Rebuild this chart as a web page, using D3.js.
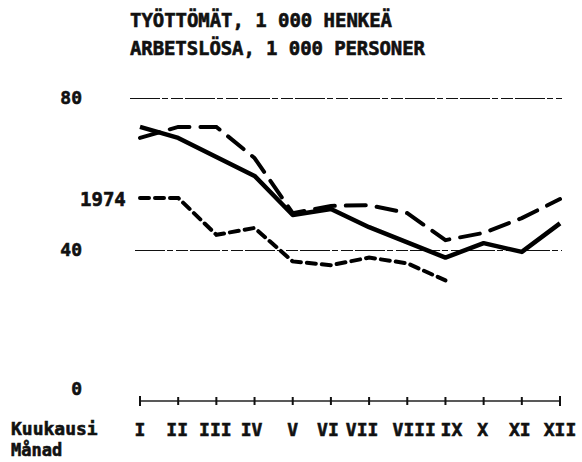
<!DOCTYPE html>
<html>
<head>
<meta charset="utf-8">
<script src="https://cdn.jsdelivr.net/npm/d3@7"></script>
<style>
  body { margin: 0; background: #fff; }
  text { font-family: "DejaVu Sans Mono", monospace; font-weight: bold; fill: #111; stroke: #111; stroke-width: 0.6; }
</style>
</head>
<body>
<div id="chart"></div>
<script>
// Data (1 000 persons)
const months = ["I", "II", "III", "IV", "V", "VI", "VII", "VIII", "IX", "X", "XI", "XII"];
const solidValues = [72.4, 69.5, 64.5, 59.5, 49.2, 50.8, 46, 42, 38, 41.8, 39.5, 47];
const longDashValues = [69.5, 72.4, 72.4, 64.2, 49.7, 51.6, 51.8, 49.7, 42.6, 44.5, 48.4, 53.4];
const values1974 = [53.7, 53.7, 44, 45.8, 37, 36, 38, 36.5, 32];
const yTicks = [0, 40, 80];
const gridValues = [40, 80];
const titleLines = ["TYÖTTÖMÄT, 1 000 HENKEÄ", "ARBETSLÖSA, 1 000 PERSONER"];

const width = 582, height = 462;

const svg = d3.select("#chart")
  .append("svg")
  .attr("width", width)
  .attr("height", height);

// Scales
const x = d3.scalePoint()
  .domain(months)
  .range([140, 560]);

const y = d3.scaleLinear()
  .domain([0, 80])
  .range([402, 98]);

// Title
svg.selectAll(".title")
  .data(titleLines)
  .enter()
  .append("text")
  .attr("class", "title")
  .attr("x", 130)
  .attr("y", function(d, i) { return 27 + i * 28; })
  .attr("font-size", 19)
  .attr("textLength", function(d, i) { return i === 0 ? 262 : 295; })
  .text(function(d) { return d; });

// Gridlines at 40 and 80
svg.selectAll(".grid")
  .data(gridValues)
  .enter()
  .append("line")
  .attr("class", "grid")
  .attr("x1", function(d) { return d === 80 ? x("I") - 10 : x("I") - 5; })
  .attr("x2", x("XII") + 2)
  .attr("y1", function(d) { return y(d) + 0.5; })
  .attr("y2", function(d) { return y(d) + 0.5; })
  .attr("stroke", "#111")
  .attr("stroke-width", 1)
  .attr("shape-rendering", "crispEdges")
  .attr("stroke-dasharray", "30,2,6,3,12,2");

// Y labels
svg.selectAll(".ylabel")
  .data(yTicks)
  .enter()
  .append("text")
  .attr("class", "ylabel")
  .attr("x", 82)
  .attr("y", function(d) { return (d === 0 ? y(d) - 13 : y(d)) + 6; })
  .attr("text-anchor", "end")
  .attr("font-size", 18)
  .attr("stroke-width", 1.2)
  .text(function(d) { return d; });

// X axis line with crossing ticks
svg.append("line")
  .attr("x1", x("I"))
  .attr("x2", x("XII"))
  .attr("y1", y(0) - 1)
  .attr("y2", y(0) - 1)
  .attr("stroke", "#222")
  .attr("stroke-width", 1.3);

svg.selectAll(".tick")
  .data(months)
  .enter()
  .append("line")
  .attr("class", "tick")
  .attr("x1", function(d) { return x(d); })
  .attr("x2", function(d) { return x(d); })
  .attr("y1", function(d, i) { return y(0) - (i === 0 || i === 11 ? 6 : 5); })
  .attr("y2", function(d, i) { return y(0) + (i === 0 || i === 11 ? 4 : 3); })
  .attr("stroke", "#111")
  .attr("stroke-width", 2);

// Month labels (a few sit slightly off their tick in the original)
const nudge = { "II": -1, "III": -1, "IV": -3, "VI": -3, "VII": -7, "VIII": 7, "IX": 6, "X": -1, "XI": -2 };
svg.selectAll(".mlabel")
  .data(months)
  .enter()
  .append("text")
  .attr("class", "mlabel")
  .attr("x", function(d) { return x(d) + (nudge[d] || 0); })
  .attr("y", 436)
  .attr("text-anchor", "middle")
  .attr("font-size", 18)
  .text(function(d) { return d; });

svg.append("text")
  .attr("x", 11)
  .attr("y", 435)
  .attr("font-size", 18)
  .text("Kuukausi");

svg.append("text")
  .attr("x", 11)
  .attr("y", 456)
  .attr("font-size", 17)
  .text("Månad");

// Lines
const line = d3.line()
  .x(function(d, i) { return x(months[i]); })
  .y(function(d) { return y(d); });

svg.append("path")
  .datum(longDashValues)
  .attr("d", line)
  .attr("fill", "none")
  .attr("stroke", "#000")
  .attr("stroke-width", 4)
  .attr("stroke-linecap", "round")
  .attr("stroke-dasharray", "20,11");

svg.append("path")
  .datum(solidValues)
  .attr("d", line)
  .attr("fill", "none")
  .attr("stroke", "#000")
  .attr("stroke-width", 4.5)
  .attr("stroke-linejoin", "round");

svg.append("path")
  .datum(values1974)
  .attr("d", line)
  .attr("fill", "none")
  .attr("stroke", "#000")
  .attr("stroke-width", 4)
  .attr("stroke-linecap", "round")
  .attr("stroke-dasharray", "9,6");

// Series label
svg.append("text")
  .attr("x", 80)
  .attr("y", y(values1974[0]) + 8)
  .attr("font-size", 19)
  .text("1974");
</script>
</body>
</html>
